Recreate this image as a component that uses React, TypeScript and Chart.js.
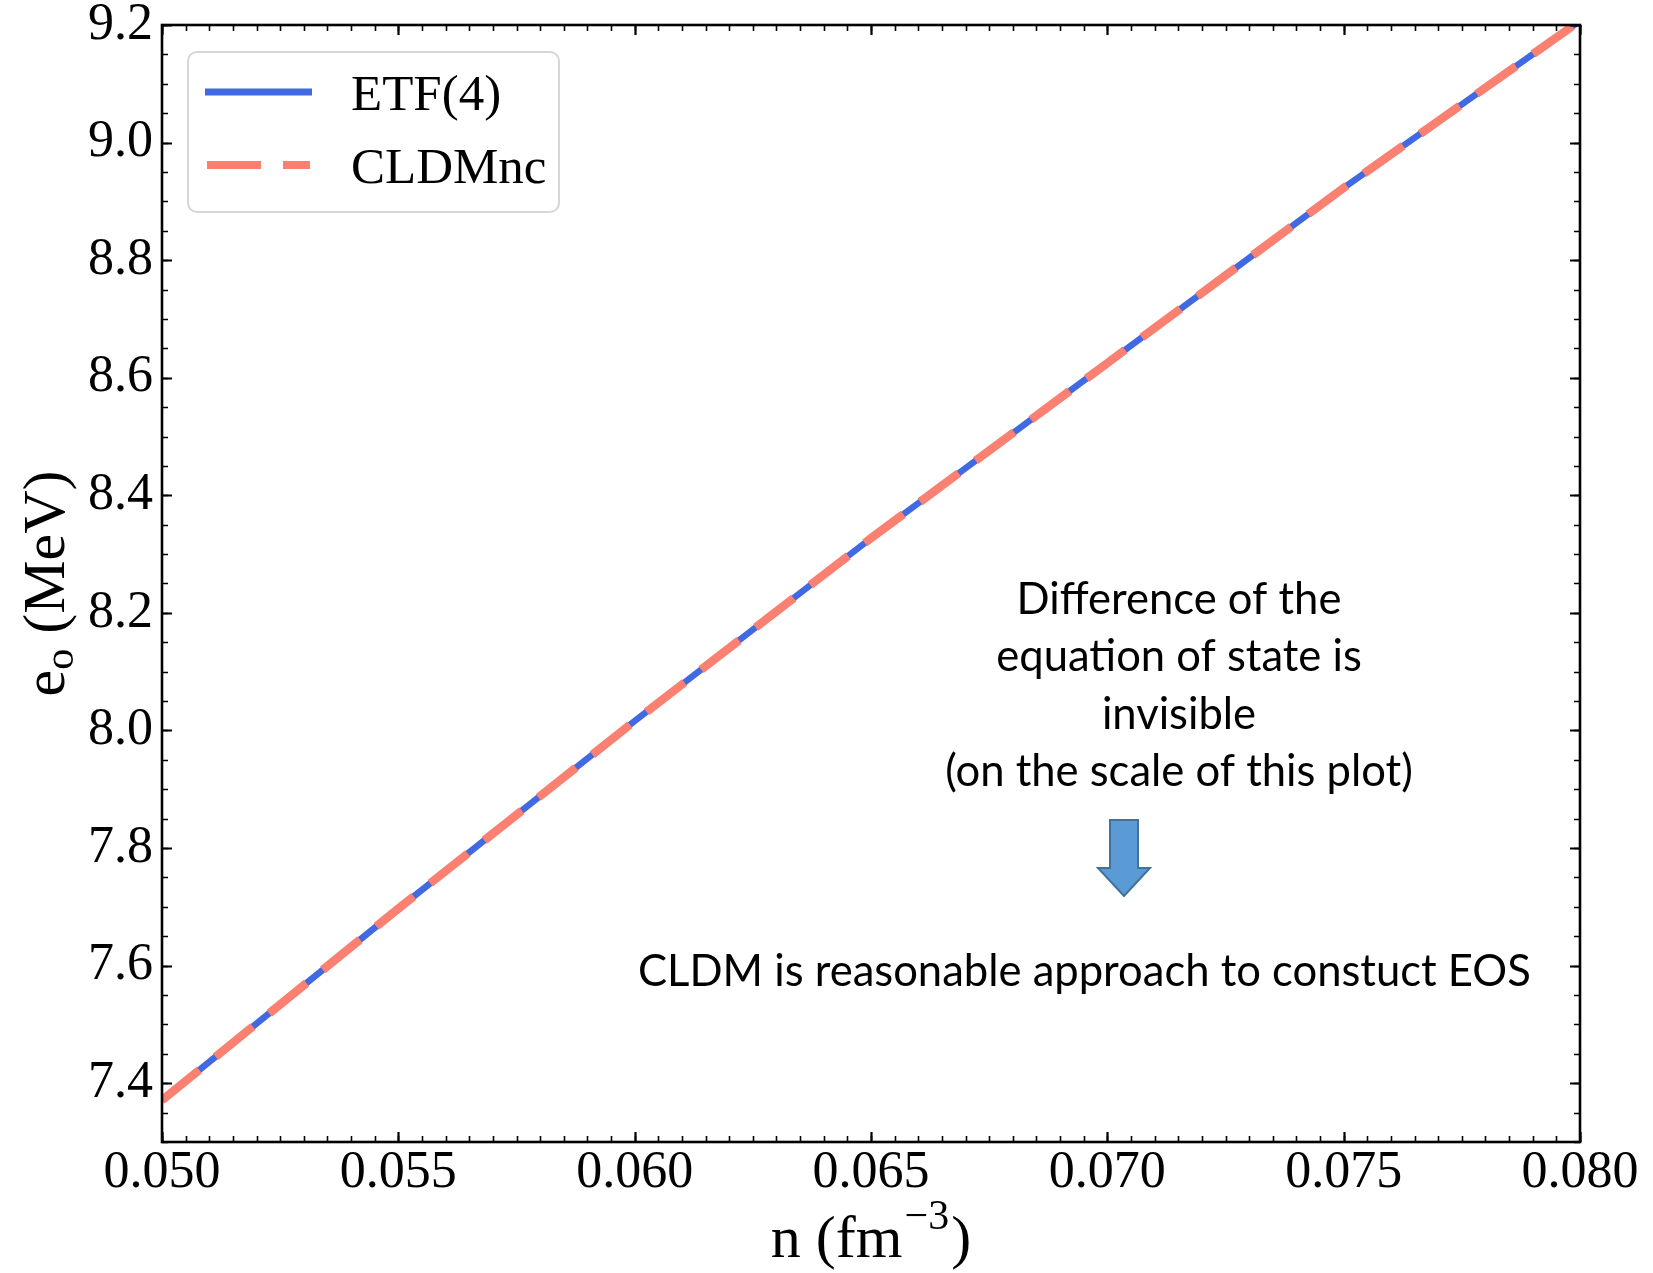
import React, { useEffect, useRef } from 'react';
import { Chart, registerables } from 'chart.js';

Chart.register(...registerables);

const CANVAS_W = 1653;
const CANVAS_H = 1273;

// Baryon density n (fm^-3) and energy per nucleon e_o (MeV)
const densities = [0.05, 0.055, 0.06, 0.065, 0.07, 0.075, 0.08];
const etf4Energy = [7.371, 7.697, 8.016, 8.327, 8.625, 8.923, 9.207];
const cldmncEnergy = [7.371, 7.697, 8.016, 8.327, 8.625, 8.923, 9.207];

// Axis ticks
const xTickValues = [0.05, 0.055, 0.06, 0.065, 0.07, 0.075, 0.08];
const yTickValues = [7.4, 7.6, 7.8, 8.0, 8.2, 8.4, 8.6, 8.8, 9.0, 9.2];
const xRange = [0.05, 0.08];
const yRange = [7.3, 9.2];
const xMinorStep = 0.0005;
const yMinorStep = 0.05;

// Text
const seriesLabels = ['ETF(4)', 'CLDMnc'];
const noteLines = [
  'Difference of the',
  'equation of state is',
  'invisible',
  '(on the scale of this plot)',
];
const conclusionText = 'CLDM is reasonable approach to constuct EOS';

const ETF_COLOR = '#4169E1';
const CLDM_COLOR = '#FA8072';
const SERIF = '"Liberation Serif", "DejaVu Serif", serif';
const SANS = 'Lato, "Open Sans", sans-serif';
const DASH = [48, 21];

function zeroScalePadding(scale: any) {
  scale.paddingTop = 0;
  scale.paddingBottom = 0;
  scale.paddingLeft = 0;
  scale.paddingRight = 0;
}

const decorations = {
  id: 'decorations',
  afterDraw(chart: any) {
    const { ctx, chartArea: a, scales } = chart;
    const xs = scales.x;
    const ys = scales.y;
    ctx.save();

    // inward ticks on all four sides
    ctx.strokeStyle = '#000';
    const drawTicksX = (step: number, len: number, lw: number) => {
      ctx.lineWidth = lw;
      const n = Math.round((xRange[1] - xRange[0]) / step);
      for (let i = 0; i <= n; i++) {
        const px = Math.round(xs.getPixelForValue(xRange[0] + i * step)) + 0.5;
        ctx.beginPath();
        ctx.moveTo(px, a.bottom);
        ctx.lineTo(px, a.bottom - len);
        ctx.moveTo(px, a.top);
        ctx.lineTo(px, a.top + len);
        ctx.stroke();
      }
    };
    const drawTicksY = (start: number, step: number, len: number, lw: number) => {
      ctx.lineWidth = lw;
      const n = Math.round((yRange[1] - start) / step);
      for (let i = 0; i <= n; i++) {
        const py = Math.round(ys.getPixelForValue(start + i * step)) + 0.5;
        ctx.beginPath();
        ctx.moveTo(a.left, py);
        ctx.lineTo(a.left + len, py);
        ctx.moveTo(a.right, py);
        ctx.lineTo(a.right - len, py);
        ctx.stroke();
      }
    };
    drawTicksX(xMinorStep, 6, 1.6);
    drawTicksX(xTickValues[1] - xTickValues[0], 10, 2.2);
    drawTicksY(yRange[0], yMinorStep, 6, 1.6);
    drawTicksY(yTickValues[0], yTickValues[1] - yTickValues[0], 10, 2.2);

    // frame
    ctx.lineWidth = 2.6;
    ctx.strokeRect(a.left, a.top, a.right - a.left, a.bottom - a.top);

    // legend
    const lx = 188, ly = 52, lw = 371, lh = 160;
    ctx.beginPath();
    ctx.roundRect(lx, ly, lw, lh, 9);
    ctx.fillStyle = 'rgba(255,255,255,0.85)';
    ctx.fill();
    ctx.strokeStyle = '#d6d6d6';
    ctx.lineWidth = 2;
    ctx.stroke();

    ctx.lineCap = 'butt';
    ctx.strokeStyle = ETF_COLOR;
    ctx.lineWidth = 7;
    ctx.beginPath();
    ctx.moveTo(205, 92);
    ctx.lineTo(312, 92);
    ctx.stroke();

    ctx.strokeStyle = CLDM_COLOR;
    ctx.lineWidth = 8;
    ctx.setLineDash([54, 22]);
    ctx.beginPath();
    ctx.moveTo(207, 165);
    ctx.lineTo(310, 165);
    ctx.stroke();
    ctx.setLineDash([]);

    ctx.fillStyle = '#000';
    ctx.font = `51px ${SERIF}`;
    ctx.textAlign = 'left';
    ctx.textBaseline = 'alphabetic';
    ctx.fillText(seriesLabels[0], 351, 110);
    ctx.fillText(seriesLabels[1], 351, 183);

    // x-axis title: n (fm^-3)
    const cx = (a.left + a.right) / 2;
    ctx.font = `60px ${SERIF}`;
    const t1 = 'n (fm';
    const t3 = ')';
    const w1 = ctx.measureText(t1).width;
    const w3 = ctx.measureText(t3).width;
    ctx.font = `42px ${SERIF}`;
    const t2 = '\u22123';
    const w2 = ctx.measureText(t2).width;
    const sx = cx - (w1 + w2 + w3 + 4) / 2;
    const xb = 1257;
    ctx.font = `60px ${SERIF}`;
    ctx.fillText(t1, sx, xb);
    ctx.font = `42px ${SERIF}`;
    ctx.fillText(t2, sx + w1 + 2, xb - 28);
    ctx.font = `60px ${SERIF}`;
    ctx.fillText(t3, sx + w1 + w2 + 4, xb);

    // y-axis title: e_o (MeV)
    ctx.save();
    ctx.translate(64, (a.top + a.bottom) / 2);
    ctx.rotate(-Math.PI / 2);
    ctx.font = `60px ${SERIF}`;
    const we = ctx.measureText('e').width;
    const wr = ctx.measureText(' (MeV)').width;
    ctx.font = `42px ${SERIF}`;
    const wo = ctx.measureText('o').width;
    const ty = -(we + wo + wr) / 2;
    ctx.font = `60px ${SERIF}`;
    ctx.fillText('e', ty, 0);
    ctx.font = `42px ${SERIF}`;
    ctx.fillText('o', ty + we, 9);
    ctx.font = `60px ${SERIF}`;
    ctx.fillText(' (MeV)', ty + we + wo, 0);
    ctx.restore();

    // annotation
    ctx.font = `44px ${SANS}`;
    const target = 893;
    const size = 44 * target / ctx.measureText(conclusionText).width;
    ctx.font = `${size.toFixed(2)}px ${SANS}`;
    ctx.textAlign = 'center';
    const noteX = 1179;
    const noteBase = [614, 671, 729, 786];
    noteLines.forEach((line, i) => ctx.fillText(line, noteX, noteBase[i]));
    ctx.textAlign = 'left';
    ctx.fillText(conclusionText, 638, 986);

    // down arrow
    ctx.beginPath();
    ctx.moveTo(1110, 820);
    ctx.lineTo(1138, 820);
    ctx.lineTo(1138, 868);
    ctx.lineTo(1150, 868);
    ctx.lineTo(1124, 896);
    ctx.lineTo(1098, 868);
    ctx.lineTo(1110, 868);
    ctx.closePath();
    ctx.fillStyle = '#5B9BD5';
    ctx.fill();
    ctx.strokeStyle = '#41719C';
    ctx.lineWidth = 2;
    ctx.stroke();

    ctx.restore();
  },
};

export default function App() {
  const canvasRef = useRef<HTMLCanvasElement | null>(null);

  useEffect(() => {
    const canvas = canvasRef.current;
    if (!canvas) return;
    const chart = new Chart(canvas, {
      type: 'line',
      data: {
        datasets: [
          {
            label: seriesLabels[0],
            data: densities.map((n, i) => ({ x: n, y: etf4Energy[i] })),
            borderColor: ETF_COLOR,
            borderWidth: 6.5,
            pointRadius: 0,
            tension: 0,
            clip: 0,
            order: 1,
          },
          {
            label: seriesLabels[1],
            data: densities.map((n, i) => ({ x: n, y: cldmncEnergy[i] })),
            borderColor: CLDM_COLOR,
            borderWidth: 8.5,
            borderDash: DASH,
            borderCapStyle: 'butt',
            pointRadius: 0,
            tension: 0,
            clip: 0,
            order: 0,
          },
        ],
      },
      options: {
        animation: false,
        responsive: false,
        devicePixelRatio: 1,
        layout: { padding: { top: 25, right: 73, left: 0, bottom: 0 } },
        plugins: {
          legend: { display: false },
          tooltip: { enabled: false },
        },
        scales: {
          x: {
            type: 'linear',
            min: xRange[0],
            max: xRange[1],
            grid: { display: false, drawTicks: false, tickLength: 0 },
            border: { display: false },
            afterBuildTicks: (s: any) => {
              s.ticks = xTickValues.map((v) => ({ value: v }));
            },
            afterFit: (s: any) => {
              s.height = 131;
              zeroScalePadding(s);
            },
            ticks: {
              padding: 0,
              color: '#000',
              maxRotation: 0,
              font: { family: SERIF, size: 52, lineHeight: 1.2 },
              callback: (v: any) => Number(v).toFixed(3),
            },
          },
          y: {
            type: 'linear',
            min: yRange[0],
            max: yRange[1],
            grid: { display: false, drawTicks: false, tickLength: 0 },
            border: { display: false },
            afterBuildTicks: (s: any) => {
              s.ticks = yTickValues.map((v) => ({ value: v }));
            },
            afterFit: (s: any) => {
              s.width = 162;
              zeroScalePadding(s);
            },
            ticks: {
              padding: 9,
              color: '#000',
              font: { family: SERIF, size: 52, lineHeight: 1.2 },
              callback: (v: any) => Number(v).toFixed(1),
            },
          },
        },
      },
      plugins: [decorations],
    });
    return () => chart.destroy();
  }, []);

  return (
    <div style={{ position: 'absolute', left: 0, top: 0, width: CANVAS_W, height: CANVAS_H, background: '#fff' }}>
      <canvas ref={canvasRef} width={CANVAS_W} height={CANVAS_H} style={{ display: 'block' }} />
    </div>
  );
}
